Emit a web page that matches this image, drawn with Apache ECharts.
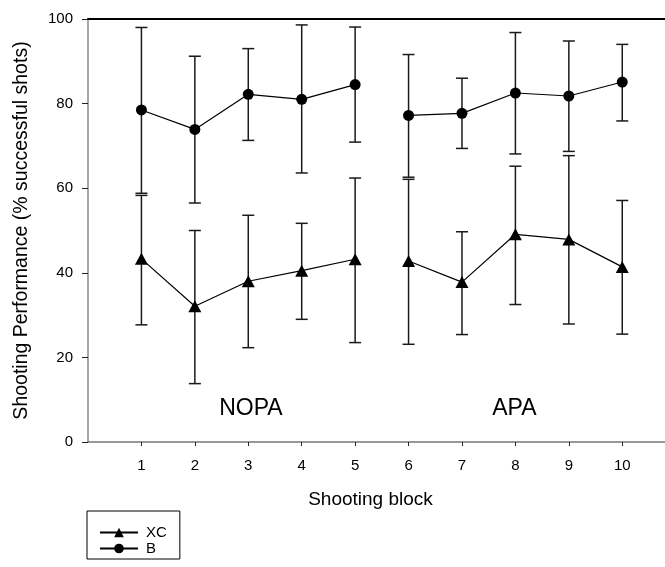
<!DOCTYPE html>
<html>
<head>
<meta charset="utf-8">
<script src="https://cdn.jsdelivr.net/npm/echarts@6/dist/echarts.min.js"></script>
<style>
  html, body { margin: 0; padding: 0; background: #fff; }
  #chart { width: 665px; height: 567px; }
</style>
</head>
<body>
<div id="chart"></div>
<script>
// shooting blocks; the line breaks between NOPA (1-5) and APA (6-10)
const blocks = [1, 2, 3, 4, 5, 6, 7, 8, 9, 10];
const breakAfter = 5;

const xcMean = [43.3, 32.1, 38.0, 40.5, 43.2, 42.8, 37.8, 49.1, 47.9, 41.4];
const xcLow  = [27.7, 13.8, 22.3, 29.0, 23.5, 23.1, 25.4, 32.5, 27.9, 25.5];
const xcHigh = [58.3, 50.0, 53.6, 51.7, 62.4, 62.1, 49.7, 65.2, 67.7, 57.1];

const bMean = [78.5, 73.9, 82.2, 81.0, 84.5, 77.2, 77.7, 82.5, 81.8, 85.1];
const bLow  = [58.8, 56.5, 71.3, 63.6, 70.9, 62.6, 69.4, 68.1, 68.7, 75.9];
const bHigh = [98.0, 91.2, 93.0, 98.6, 98.1, 91.6, 86.0, 96.8, 94.8, 94.0];

const yTicks = [0, 20, 40, 60, 80, 100];

const annotations = [
  { text: 'NOPA', x: 3.05, y: 8 },
  { text: 'APA', x: 7.98, y: 8 }
];

const font = 'Liberation Sans, Arial, sans-serif';

function lineData(means) {
  const out = [];
  blocks.forEach((b, i) => {
    out.push([b, means[i]]);
    if (b === breakAfter) out.push([b + 0.5, '-']);
  });
  return out;
}

function barData(low, high) {
  return blocks.map((b, i) => [b, low[i], high[i]]);
}

function renderErrorBar(params, api) {
  const top = api.coord([api.value(0), api.value(2)]);
  const bot = api.coord([api.value(0), api.value(1)]);
  const half = 6;
  const style = { stroke: '#1a1a1a', lineWidth: 1.5 };
  return {
    type: 'group',
    children: [
      { type: 'line', shape: { x1: top[0], y1: top[1], x2: bot[0], y2: bot[1] }, style },
      { type: 'line', shape: { x1: top[0] - half, y1: top[1], x2: top[0] + half, y2: top[1] }, style },
      { type: 'line', shape: { x1: bot[0] - half, y1: bot[1], x2: bot[0] + half, y2: bot[1] }, style }
    ]
  };
}

var myChart = echarts.init(document.getElementById('chart'));

myChart.setOption({
  animation: false,
  textStyle: { fontFamily: font },
  grid: { left: 88, right: 0, top: 19, bottom: 125 },
  legend: {
    data: ['XC', 'B'],
    orient: 'vertical',
    left: 87,
    top: 511,
    itemWidth: 38,
    itemHeight: 12,
    itemGap: 1,
    padding: [14, 13, 3, 12],
    borderColor: '#000',
    borderWidth: 1,
    textStyle: { fontSize: 15, color: '#000', fontFamily: font, padding: [0, 0, 0, 3] }
  },
  xAxis: [
    {
      type: 'value',
      min: 0,
      max: 10.8,
      interval: 1,
      name: 'Shooting block',
      nameLocation: 'middle',
      nameGap: 48,
      nameTextStyle: { fontSize: 19, color: '#000', fontFamily: font, padding: [0, 12, 0, 0] },
      axisLine: { lineStyle: { color: '#777', width: 1.5 } },
      axisTick: { length: 4, customValues: blocks, lineStyle: { color: '#222' } },
      axisLabel: { fontSize: 15, color: '#000', margin: 16, customValues: blocks },
      splitLine: { show: false }
    },
    {
      type: 'value',
      position: 'top',
      min: 0,
      max: 10.8,
      axisLine: { show: true, lineStyle: { color: '#000', width: 2 } },
      axisTick: { show: false },
      axisLabel: { show: false },
      splitLine: { show: false }
    }
  ],
  yAxis: {
    type: 'value',
    min: yTicks[0],
    max: yTicks[yTicks.length - 1],
    interval: 20,
    name: 'Shooting Performance (% successful shots)',
    nameLocation: 'middle',
    nameGap: 56,
    nameTextStyle: { fontSize: 19.5, color: '#000', fontFamily: font },
    axisLine: { show: true, lineStyle: { color: '#888', width: 1.5 } },
    axisTick: { show: true, length: 6, lineStyle: { color: '#222' } },
    axisLabel: { fontSize: 15, color: '#000', margin: 15 },
    splitLine: { show: false }
  },
  series: [
    {
      name: 'XC error',
      type: 'custom',
      renderItem: renderErrorBar,
      data: barData(xcLow, xcHigh),
      encode: { x: 0, y: [1, 2] },
      z: 1
    },
    {
      name: 'B error',
      type: 'custom',
      renderItem: renderErrorBar,
      data: barData(bLow, bHigh),
      encode: { x: 0, y: [1, 2] },
      z: 1
    },
    {
      name: 'XC',
      type: 'line',
      data: lineData(xcMean),
      connectNulls: false,
      symbol: 'triangle',
      symbolSize: [13, 12],
      itemStyle: { color: '#000' },
      lineStyle: { color: '#000', width: 1.2 },
      z: 3
    },
    {
      name: 'B',
      type: 'line',
      data: lineData(bMean),
      connectNulls: false,
      symbol: 'circle',
      symbolSize: 11,
      itemStyle: { color: '#000' },
      lineStyle: { color: '#000', width: 1.2 },
      z: 3
    }
  ]
});

// group labels placed through the axes
myChart.setOption({
  graphic: annotations.map(a => {
    const p = myChart.convertToPixel({ gridIndex: 0 }, [a.x, a.y]);
    return {
      type: 'text',
      x: p[0],
      y: p[1],
      style: {
        text: a.text,
        fontSize: 23,
        fontFamily: font,
        fill: '#000',
        align: 'center',
        verticalAlign: 'middle'
      }
    };
  })
});
</script>
</body>
</html>
